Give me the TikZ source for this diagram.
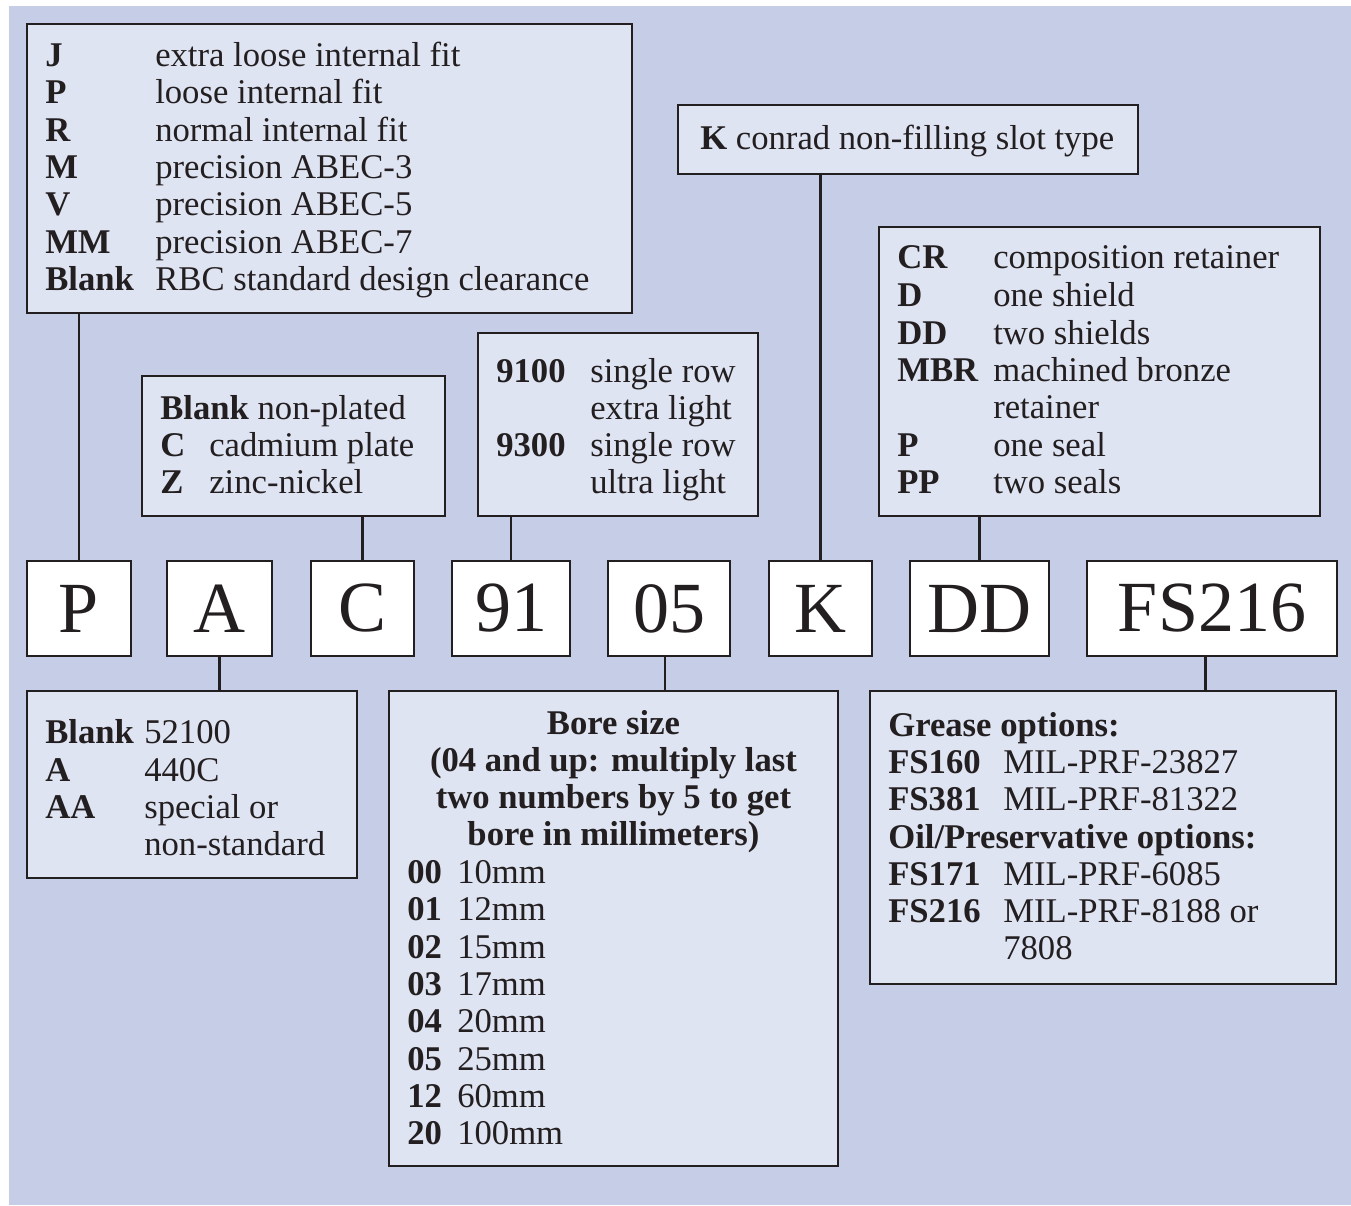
\documentclass[tikz,border=0pt]{standalone}
\usepackage{fontspec}
\setmainfont{Liberation Serif}
\definecolor{bgc}{HTML}{C6CEE7}
\definecolor{panelc}{HTML}{DFE4F3}
\definecolor{inkc}{HTML}{231F20}
\newcommand\trow[6]{%
  \node[lbl] (#1a) at (#2,#4) {#5};
  \node[txt] (#1b) at (#3,#4) {#6};}
\begin{document}
\begin{tikzpicture}[x=0.75pt,y=-0.75pt,
  panel/.style={draw=inkc, line width=2.2pt, fill=panelc, inner sep=0pt},
  codebox/.style={draw=inkc, line width=2.2pt, fill=white, inner sep=0pt,
    minimum height=95*0.75pt, font=\fontsize{54}{54}\selectfont, text=inkc},
  txt/.style={anchor=base west, inner sep=0pt, yshift=-1.5pt, text=inkc, font=\fontsize{26}{28}\selectfont},
  lbl/.style={txt, font=\fontsize{26}{28}\selectfont\bfseries},
  ctxt/.style={anchor=base, inner sep=0pt, yshift=-1.5pt, text=inkc, font=\fontsize{26}{28}\selectfont\bfseries},
  link/.style={draw=inkc, line width=2.2pt}]
\useasboundingbox (0,0) rectangle (1351,1205);
\fill[bgc] (9,6) rectangle (1351,1205);

% panels
\node[panel, minimum width=605*0.75pt, minimum height=289*0.75pt] (B1) at (329.5,168.5) {};
\node[panel, minimum width=460*0.75pt, minimum height=69*0.75pt] (BK) at (908,139.5) {};
\node[panel, minimum width=441*0.75pt, minimum height=289*0.75pt] (BCR) at (1099.5,371.5) {};
\node[panel, minimum width=303*0.75pt, minimum height=140*0.75pt] (BPL) at (293.5,446) {};
\node[panel, minimum width=280*0.75pt, minimum height=183*0.75pt] (BSR) at (618,424.5) {};
\node[panel, minimum width=330*0.75pt, minimum height=187*0.75pt] (BM) at (192,784.5) {};
\node[panel, minimum width=449*0.75pt, minimum height=475*0.75pt] (BB) at (613.5,928.5) {};
\node[panel, minimum width=466*0.75pt, minimum height=293*0.75pt] (BG) at (1103,837.5) {};

% code boxes
\node[codebox, minimum width=104*0.75pt] (cP) at (79,608.5) {P};
\node[codebox, minimum width=105*0.75pt] (cA) at (219.5,608.5) {A};
\node[codebox, minimum width=103*0.75pt] (cC) at (362.5,608.5) {C};
\node[codebox, minimum width=118*0.75pt] (c91) at (511,608.5) {91};
\node[codebox, minimum width=122*0.75pt] (c05) at (669,608.5) {05};
\node[codebox, minimum width=103*0.75pt] (cK) at (820.5,608.5) {K};
\node[codebox, minimum width=139*0.75pt] (cDD) at (979.5,608.5) {DD};
\node[codebox, minimum width=250*0.75pt] (cFS) at (1212,608.5) {FS216};

\coordinate (c05s) at ([xshift=-3pt]c05.south);
\coordinate (cFSs) at ([xshift=-5pt]cFS.south);

% connectors
\draw[link] (B1.south -| cP.north) -- (cP.north);
\draw[link] (BPL.south -| cC.north) -- (cC.north);
\draw[link] (BSR.south -| c91.north) -- (c91.north);
\draw[link] (BK.south -| cK.north) -- (cK.north);
\draw[link] (BCR.south -| cDD.north) -- (cDD.north);
\draw[link] (cA.south) -- (BM.north -| cA.south);
\draw[link] (c05s) -- (BB.north -| c05s);
\draw[link] (cFSs) -- (BG.north -| cFSs);

% box 1
\trow{r1}{45}{155}{65}{J}{extra loose internal fit}
\trow{r2}{45}{155}{102}{P}{loose internal fit}
\trow{r3}{45}{155}{140}{R}{normal internal fit}
\trow{r4}{45}{155}{177}{M}{precision ABEC-3}
\trow{r5}{45}{155}{214}{V}{precision ABEC-5}
\trow{r6}{45}{155}{252}{MM}{precision ABEC-7}
\trow{r7}{45}{155}{289}{Blank}{RBC standard design clearance}

% K box
\node[txt] (kt) at (700,148) {\textbf{K} conrad non-filling slot type};

% CR box
\trow{s1}{897}{993}{267}{CR}{composition retainer}
\trow{s2}{897}{993}{304}{D}{one shield}
\trow{s3}{897}{993}{342}{DD}{two shields}
\trow{s4}{897}{993}{379}{MBR}{machined bronze}
\node[txt] (s5b) at (993,416) {retainer};
\trow{s6}{897}{993}{454}{P}{one seal}
\trow{s7}{897}{993}{491}{PP}{two seals}

% plating box
\node[txt] (p1) at (160,417) {\textbf{Blank} non-plated};
\trow{p2}{160}{209}{454}{C}{cadmium plate}
\trow{p3}{160}{209}{491}{Z}{zinc-nickel}

% series box
\trow{q1}{496}{590}{380}{9100}{single row}
\node[txt] (q2b) at (590,417) {extra light};
\trow{q3}{496}{590}{454}{9300}{single row}
\node[txt] (q4b) at (590,491) {ultra light};

% material box
\trow{m1}{45}{144}{741}{Blank}{52100}
\trow{m2}{45}{144}{779}{A}{440C}
\trow{m3}{45}{144}{816}{AA}{special or}
\node[txt] (m4b) at (144,853) {non-standard};

% bore box
\node[ctxt] (h1) at (613.5,732) {Bore size};
\node[ctxt] (h2) at (613.5,769) {(04 and up: multiply last};
\node[ctxt] (h3) at (613.5,806) {two numbers by 5 to get};
\node[ctxt] (h4) at (613.5,843) {bore in millimeters)};
\trow{b1}{407}{457}{881}{00}{10mm}
\trow{b2}{407}{457}{918}{01}{12mm}
\trow{b3}{407}{457}{956}{02}{15mm}
\trow{b4}{407}{457}{993}{03}{17mm}
\trow{b5}{407}{457}{1030}{04}{20mm}
\trow{b6}{407}{457}{1068}{05}{25mm}
\trow{b7}{407}{457}{1105}{12}{60mm}
\trow{b8}{407}{457}{1142}{20}{100mm}

% grease box
\node[lbl] (g1) at (888,734) {Grease options:};
\trow{g2}{888}{1003}{771}{FS160}{MIL-PRF-23827}
\trow{g3}{888}{1003}{808}{FS381}{MIL-PRF-81322}
\node[lbl] (g4) at (888,846) {Oil/Preservative options:};
\trow{g5}{888}{1003}{883}{FS171}{MIL-PRF-6085}
\trow{g6}{888}{1003}{920}{FS216}{MIL-PRF-8188 or}
\node[txt] (g7b) at (1003,957) {7808};
\end{tikzpicture}
\end{document}
